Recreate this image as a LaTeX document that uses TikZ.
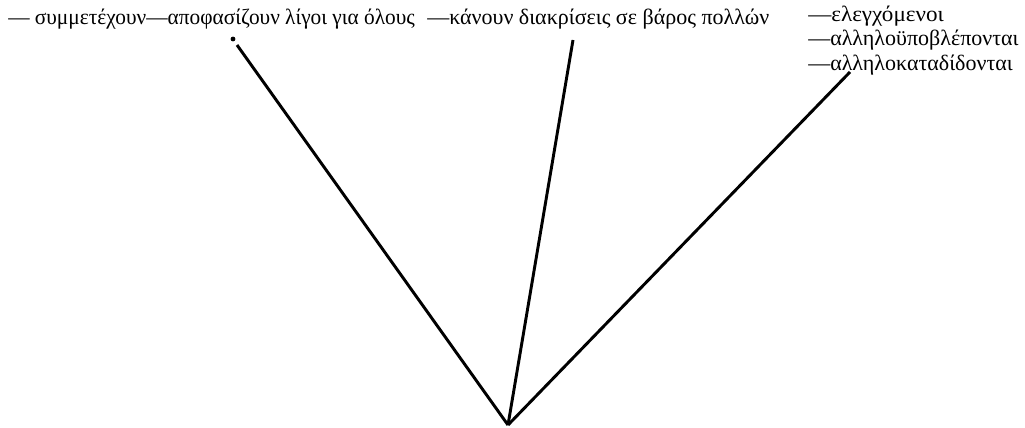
\documentclass[tikz,border=0pt]{standalone}
\usepackage{fontspec}
\setmainfont{Liberation Serif}
\newfontfamily\midface[FakeStretch=1.05]{Liberation Serif}
\newfontfamily\narrface[FakeStretch=0.97]{Liberation Serif}
\begin{document}
\begin{tikzpicture}[x=0.75pt,y=-0.75pt,
  lbl/.style={anchor=base west,inner sep=0pt,font=\fontsize{16.5}{18}\selectfont},
  ray/.style={line width=2.2pt}]
\useasboundingbox (0,0) rectangle (1025,428);
\coordinate (apex) at (508,425);
\coordinate (e1) at (237,45);
\coordinate (e2) at (573,40);
\coordinate (e3) at (850,72);
\node[lbl] (t1) at (8,25) {\narrface — συμμετέχουν—αποφασίζουν λίγοι για όλους};
\node[lbl] (t2) at (427,25) {—κάνουν διακρίσεις σε βάρος πολλών};
\node[lbl] (t3) at (808,22) {\midface —ελεγχόμενοι};
\node[lbl] (t4) at (808,46) {—αλληλοϋποβλέπονται};
\node[lbl] (t5) at (808,70) {—αλληλοκαταδίδονται};
\fill (233,39) circle (2.4);
\draw[ray] (apex) -- (e1);
\draw[ray] (apex) -- (e2);
\draw[ray] (apex) -- (e3);
\end{tikzpicture}
\end{document}
